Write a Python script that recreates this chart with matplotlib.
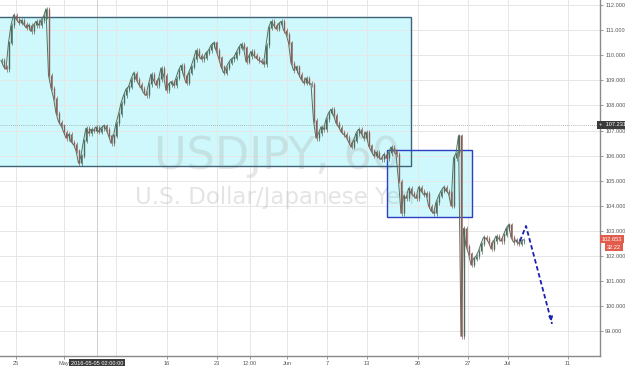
import numpy as np
import matplotlib as mpl
mpl.use('agg')
import matplotlib.pyplot as plt
import matplotlib.patches as mpatches

# hourly closes resampled to quarter-day steps
closes = [
    109.8, 109.55, 109.45, 110.5, 111.2, 111.6, 111.45, 111.3,
    111.4, 111.25, 111.1, 111.2, 110.95, 111.2, 111.35, 111.2,
    111.4, 111.55, 111.85, 109.2, 108.7, 108.3, 107.7, 107.35,
    107.2, 106.95, 106.7, 106.85, 106.55, 106.45, 106.2, 105.7,
    106.0, 106.6, 107.1, 106.9, 107.05, 107.0, 107.15, 106.95,
    107.1, 107.2, 107.05, 106.8, 106.5, 106.8, 107.3, 107.65,
    108.1, 108.4, 108.65, 108.75, 109.05, 109.3, 109.05, 108.85,
    108.7, 108.5, 108.4, 108.85, 109.25, 109.0, 108.8, 109.05,
    109.5, 109.2, 108.6, 108.85, 108.95, 108.8, 109.1, 109.4,
    109.6, 109.2, 108.9, 109.3, 109.55, 109.85, 110.2, 110.0,
    109.85, 109.9, 110.1, 110.2, 110.4, 110.5, 110.2, 109.9,
    109.55, 109.3, 109.5, 109.7, 109.85, 109.9, 110.1, 110.3,
    110.45, 110.3, 109.75, 109.95, 110.15, 110.0, 109.9, 109.8,
    109.75, 109.65, 110.4, 111.1, 111.35, 111.2, 111.05, 111.25,
    111.35, 111.0, 110.85, 110.5, 109.7, 109.4, 109.55, 109.25,
    109.05, 108.9, 109.1, 108.9, 108.85, 107.4, 106.7, 106.9,
    107.15, 107.05, 107.45, 107.7, 107.85, 107.6, 107.3, 107.15,
    106.95, 106.85, 106.75, 106.55, 106.35, 106.6, 106.9, 107.05,
    106.9, 106.7, 106.95, 106.4, 106.2, 106.0, 106.15, 105.95,
    105.85, 106.05, 105.9, 106.1, 106.35, 106.2, 106.05, 105.0,
    103.7, 104.4, 104.3, 104.7, 104.5, 104.4, 104.3, 104.75,
    104.6, 104.45, 104.5, 104.0, 103.8, 103.7, 104.15, 104.4,
    104.6, 104.75, 104.6, 104.5, 104.0, 105.9, 106.1, 106.8,
    98.8, 103.1, 102.4, 102.1, 101.65, 101.9, 102.0, 102.2,
    102.5, 102.75, 102.7, 102.55, 102.3, 102.6, 102.8, 102.7,
    102.6, 102.85, 103.1, 103.25, 102.75, 102.55, 102.65, 102.5,
    102.6, 102.65,
]
start_day = -1.5      # trading days from Mon 25 Apr
step = 0.25

tick_days = [0, 4.8, 15.1, 20.1, 23.4, 27.1, 31.1, 35.1, 40.2, 45.2, 49.2, 55.2]
tick_labels = ['25', 'May', '16', '23', '12:00', 'Jun', '7', '13', '20', '27', 'Jul', '11']
hidden_grid_days = [10.0]   # '9' sits under the cursor label
price_ticks = list(range(99, 113))

# drawn boxes: (day0, day1, low, high)
range_box = (-3.0, 39.5, 105.59, 111.52)
brexit_box = (37.1, 45.6, 103.55, 106.22)

# projected path
proj_days = [50.4, 51.0, 53.6]
proj_prices = [102.6, 103.2, 99.3]

cursor_day = 8.1
cursor_price = 107.231
cursor_label = '2016-05-05 02:00:00'
last_price = 102.653
countdown = '32:22'

small = dict(family='Liberation Sans', fontsize=4.1)

fig = plt.figure(figsize=(6.25, 3.66), dpi=100)
ax = fig.add_axes([0, 10 / 366, 600 / 625, 356 / 366])
ax.set_xlim(-1.6, 58.4)
ax.set_ylim(98.02, 112.2)

# grid
for d in tick_days + hidden_grid_days:
    ax.axvline(d, color='#e6e6e6', lw=0.7, zorder=1)
for p in price_ticks:
    ax.axhline(p, color='#e6e6e6', lw=0.7, zorder=1)

# boxes
for (d0, d1, lo, hi), edge in [(range_box, '#3d6479'), (brexit_box, '#2b3fc6')]:
    ax.add_patch(mpatches.Rectangle((d0, lo), d1 - d0, hi - lo, facecolor='#c6f7fb',
                                    edgecolor='none', alpha=0.85, zorder=0.5))
    ax.add_patch(mpatches.Rectangle((d0, lo), d1 - d0, hi - lo, fill=False,
                                    edgecolor=edge, lw=1.0, zorder=3))

# watermark
ax.text(0.461, 0.56, 'USDJPY, 60', transform=ax.transAxes, ha='center', va='center',
        fontsize=32, color='#a8a8a8', alpha=0.27, zorder=2)
ax.text(0.458, 0.444, 'U.S. Dollar/Japanese Yen', transform=ax.transAxes, ha='center',
        va='center', fontsize=16.5, color='#a8a8a8', alpha=0.3, zorder=2)

# crosshair
ax.axhline(cursor_price, color='#a0a0a0', lw=0.6, ls=(0, (1, 1.5)), zorder=2)
ax.axvline(cursor_day, color='#c8c8c8', lw=0.6, zorder=2)

# candles
c = np.array(closes)
days = start_day + step * np.arange(len(c))
o = np.r_[c[0], c[:-1]]
up = c >= o
lo = np.minimum(o, c)
hi = np.maximum(o, c)
ax.plot(days, c, color='#55705f', lw=0.7, zorder=4)
for mask, col in [(up, '#4e6b5d'), (~up, '#8c605a')]:
    ax.vlines(days[mask] + 0.08, lo[mask] - 0.1, hi[mask] + 0.08, color=col, lw=0.5, zorder=4)
    ax.vlines(days[mask], lo[mask], hi[mask] + 0.01, color=col, lw=1.0, zorder=4)

# projection
ax.plot(proj_days, proj_prices, color='#1b22b0', lw=1.3, ls=(0, (2.5, 1.5)), zorder=5)
ax.annotate('', xy=(proj_days[-1], proj_prices[-1]),
            xytext=(proj_days[-1] - 0.15, proj_prices[-1] + 0.35),
            arrowprops=dict(arrowstyle='-|>', color='#1b22b0', lw=1.0,
                            mutation_scale=6), zorder=5)

# axes styling
for s in ['top', 'left']:
    ax.spines[s].set_visible(False)
for s in ['right', 'bottom']:
    ax.spines[s].set_color('#8a8a8a')
    ax.spines[s].set_linewidth(1.0)
ax.yaxis.tick_right()
ax.set_yticks(price_ticks)
ax.set_yticklabels(['%.3f' % p for p in price_ticks])
ax.set_xticks(tick_days)
ax.set_xticklabels(tick_labels)
ax.tick_params(axis='both', length=2.5, width=0.6, color='#8a8a8a', labelsize=small['fontsize'],
               labelcolor='#555555', pad=1.2)
for lab in ax.get_xticklabels() + ax.get_yticklabels():
    lab.set_family(small['family'])

# price tags on the right axis
ytrans = ax.get_yaxis_transform()
ax.text(0.998, cursor_price, '+  ' + '%.3f' % cursor_price, transform=ytrans,
        color='white', va='center', ha='left', clip_on=False, zorder=6,
        bbox=dict(boxstyle='square,pad=0.3', fc='#3b3b3b', ec='none'), **small)
ax.text(1.003, last_price + 0.02, '%.3f' % last_price, transform=ytrans,
        color='white', va='center', ha='left', clip_on=False, zorder=6,
        bbox=dict(boxstyle='square,pad=0.3', fc='#e25c4c', ec='none'), **small)
ax.text(1.012, last_price - 0.3, countdown, transform=ytrans,
        color='white', va='center', ha='left', clip_on=False, zorder=6,
        bbox=dict(boxstyle='square,pad=0.3', fc='#e25c4c', ec='none'), **small)

# cursor date tag on the time axis
ax.text(cursor_day, -0.013, cursor_label, transform=ax.get_xaxis_transform(),
        color='white', va='top', ha='center', clip_on=False, zorder=6,
        bbox=dict(boxstyle='square,pad=0.35', fc='#3b3b3b', ec='none'), **small)

fig.savefig('out.png', dpi=100, facecolor='white')
